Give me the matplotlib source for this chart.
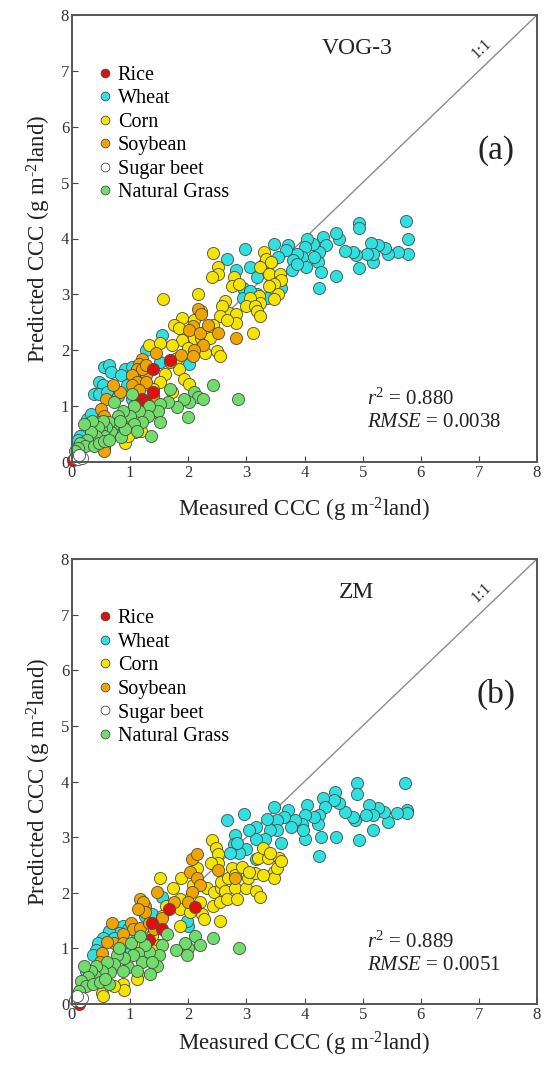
import numpy as np
import matplotlib
matplotlib.use("Agg")
import matplotlib.pyplot as plt
from matplotlib.lines import Line2D

plt.rcParams["font.family"] = ["Liberation Serif", "DejaVu Serif"]
plt.rcParams["mathtext.fontset"] = "custom"
plt.rcParams["mathtext.rm"] = "Liberation Serif"
plt.rcParams["mathtext.it"] = "Liberation Serif:italic"

# crop classes (legend order)
crops = ["Rice", "Wheat", "Corn", "Soybean", "Sugar beet", "Natural Grass"]
colors = {"Rice": "#e01010", "Wheat": "#2ee0e0", "Corn": "#f4e400",
          "Soybean": "#f0a400", "Sugar beet": "#ffffff", "Natural Grass": "#70dc6a"}

# ---- panel (a) VOG-3, measured vs predicted
a_wheat = [(5.74, 4.31), (5.78, 3.99), (5.78, 3.73), (5.61, 3.76), (5.43, 3.73), (5.38, 3.83),
           (5.27, 3.88), (5.14, 3.92), (5.18, 3.58), (5.18, 3.73), (5.07, 3.73), (4.94, 3.47),
           (4.94, 4.27), (4.94, 4.18), (4.88, 3.70), (4.84, 3.76), (4.70, 3.78), (4.60, 4.00),
           (4.54, 4.10), (4.55, 3.32), (4.31, 4.03), (4.37, 3.88), (4.25, 3.76), (4.24, 3.58),
           (4.25, 3.11), (4.28, 3.40), (4.14, 3.91), (4.17, 3.67), (4.05, 4.00), (4.00, 3.85),
           (3.96, 3.66), (4.02, 3.49), (3.87, 3.73), (3.81, 3.61), (3.78, 3.43), (3.72, 3.88),
           (3.69, 3.79), (3.87, 3.55), (3.54, 3.67), (3.48, 3.91), (3.60, 3.12), (3.42, 3.18),
           (3.30, 3.55), (3.36, 2.94), (3.18, 3.31), (3.18, 3.00), (3.06, 3.49), (2.97, 3.82),
           (2.94, 3.12), (2.82, 3.43), (2.79, 3.18), (2.94, 2.94), (2.67, 3.64), (3.06, 3.06),
           (1.54, 2.28), (1.51, 1.79), (1.27, 2.01), (2.02, 1.76), (0.55, 1.70), (0.64, 1.73),
           (0.67, 1.61), (0.47, 1.43), (0.53, 1.37), (0.38, 1.22), (0.47, 1.22), (0.61, 1.25),
           (0.91, 1.67), (1.03, 1.70), (0.85, 1.55), (0.94, 1.37), (0.79, 1.19), (0.26, 0.77),
           (0.14, 0.47), (0.11, 0.40), (0.32, 0.86), (1.03, 1.13), (1.15, 1.43)]
a_corn = [(2.42, 3.74), (3.30, 3.76), (3.33, 3.64), (2.52, 3.49), (2.52, 3.37), (2.40, 3.31),
          (2.79, 3.31), (2.76, 3.15), (2.88, 3.18), (3.24, 3.49), (3.42, 3.58), (3.39, 3.37),
          (3.57, 3.37), (3.60, 3.25), (3.48, 3.18), (3.54, 3.00), (3.48, 2.91), (3.39, 3.15),
          (3.21, 2.97), (3.24, 2.85), (3.06, 2.94), (3.00, 2.79), (3.15, 2.79), (3.18, 2.70),
          (3.24, 2.61), (3.12, 2.31), (2.17, 3.00), (1.57, 2.91), (2.64, 2.88), (2.70, 2.67),
          (2.58, 2.79), (2.55, 2.61), (2.43, 2.46), (2.34, 2.40), (2.82, 2.64), (2.82, 2.49),
          (2.67, 2.55), (2.22, 2.70), (2.10, 2.55), (1.90, 2.58), (1.75, 2.46), (1.84, 2.40),
          (2.10, 2.22), (1.90, 2.19), (1.72, 2.10), (1.99, 2.04), (2.29, 1.95), (2.22, 2.22),
          (2.37, 2.22), (2.49, 1.98), (2.55, 1.89), (1.81, 1.86), (1.84, 1.67), (1.93, 1.49),
          (2.02, 1.40), (1.60, 1.58), (1.51, 1.43), (1.39, 1.31), (1.33, 2.10), (1.51, 2.13),
          (1.72, 1.25), (1.09, 0.53), (1.18, 0.56), (0.91, 0.34), (0.97, 0.47), (1.39, 0.89),
          (1.48, 1.04)]
a_soy = [(2.17, 2.74), (2.22, 2.64), (2.08, 2.43), (2.02, 2.37), (2.20, 2.31), (2.26, 2.10),
         (2.52, 2.31), (2.82, 2.22), (2.34, 2.46), (1.87, 1.92), (2.10, 2.01), (2.08, 1.89),
         (1.69, 1.79), (1.45, 1.95), (1.27, 1.55), (1.21, 1.85), (1.15, 1.76), (1.12, 1.67),
         (1.21, 1.67), (1.27, 1.73), (1.03, 1.55), (1.12, 1.43), (1.27, 1.43), (1.03, 1.37),
         (0.82, 1.25), (0.70, 1.37), (0.58, 1.13), (0.50, 0.95), (0.55, 0.83), (0.47, 0.71),
         (1.39, 1.19), (0.55, 0.25), (0.55, 0.19), (1.15, 1.28), (1.12, 1.07)]
a_rice = [(1.39, 1.67), (1.69, 1.82), (1.21, 1.13), (1.27, 1.07), (1.39, 1.25), (0.02, 0.04)]
a_grass = [(2.85, 1.13), (2.43, 1.37), (2.10, 1.25), (2.17, 1.16), (2.26, 1.13), (2.02, 1.07),
           (1.93, 1.13), (1.81, 0.98), (1.99, 0.80), (1.66, 1.07), (1.69, 1.31), (1.51, 1.04),
           (1.48, 0.92), (1.51, 0.71), (1.33, 1.01), (1.36, 0.47), (1.30, 0.83), (1.15, 0.92),
           (1.21, 0.71), (1.03, 1.22), (1.06, 1.01), (1.00, 0.83), (1.06, 0.68), (0.88, 0.92),
           (0.88, 0.62), (0.79, 0.83), (0.73, 1.07), (0.73, 0.68), (0.67, 0.53), (0.64, 0.71),
           (0.58, 0.62), (0.50, 0.59), (0.53, 0.74), (0.55, 0.47), (0.44, 0.62), (0.41, 0.47),
           (0.35, 0.74), (0.32, 0.53), (0.26, 0.40), (0.20, 0.68), (0.14, 0.34), (0.23, 0.28),
           (0.11, 0.25), (0.38, 0.28), (0.47, 0.34), (0.55, 0.37), (0.64, 0.40), (0.85, 0.44),
           (0.91, 0.59), (1.12, 0.56), (0.82, 0.74), (0.05, 0.19)]
a_beet = [(0.05, 0.07), (0.11, 0.06), (0.17, 0.07), (0.12, 0.13)]

# ---- panel (b) ZM
b_wheat = [(5.73, 3.98), (5.77, 3.49), (5.77, 3.43), (5.59, 3.43), (5.43, 3.28), (5.37, 3.46),
           (5.26, 3.52), (5.11, 3.58), (5.17, 3.12), (5.17, 3.39), (5.05, 3.39), (4.93, 2.95),
           (4.91, 3.97), (4.90, 3.78), (4.87, 3.30), (4.84, 3.36), (4.69, 3.46), (4.60, 3.61),
           (4.53, 3.81), (4.54, 3.00), (4.51, 3.67), (4.31, 3.70), (4.36, 3.54), (4.25, 3.39),
           (4.23, 3.24), (4.25, 2.66), (4.28, 3.00), (4.16, 3.36), (4.04, 3.58), (4.01, 3.39),
           (3.95, 3.24), (4.01, 2.97), (3.98, 3.12), (3.83, 3.30), (3.77, 3.18), (3.71, 3.49),
           (3.65, 3.36), (3.53, 3.30), (3.47, 3.55), (3.53, 3.12), (3.59, 2.90), (3.41, 3.12),
           (3.35, 3.33), (3.32, 2.97), (3.17, 3.18), (3.17, 2.97), (3.05, 3.12), (2.96, 3.41),
           (2.99, 2.78), (2.87, 2.72), (2.81, 3.03), (2.78, 2.87), (2.66, 3.31), (2.72, 2.72),
           (3.17, 2.60), (2.84, 2.90),
           (1.55, 1.92), (2.00, 1.40), (1.97, 1.49), (1.26, 1.58), (1.38, 1.61), (0.87, 1.40),
           (0.96, 1.34), (0.81, 1.28), (0.63, 1.31), (0.54, 1.18), (0.45, 1.09), (0.42, 0.97),
           (0.36, 0.88), (0.72, 1.18), (1.11, 1.18), (0.24, 0.60), (1.02, 0.97)]
b_corn = [(2.40, 2.95), (2.48, 2.81), (2.51, 2.69), (2.51, 2.54), (2.39, 2.54), (2.15, 2.44),
          (2.09, 2.14), (1.88, 2.26), (1.52, 2.26), (1.73, 2.08), (1.61, 1.77), (1.85, 1.89),
          (1.85, 1.71), (2.03, 1.65), (2.21, 1.83), (2.24, 1.61), (2.27, 1.52), (2.33, 2.08),
          (2.45, 2.01), (2.42, 1.77), (2.54, 1.83), (2.57, 2.08), (2.57, 2.20), (2.69, 2.26),
          (2.63, 2.04), (2.66, 1.89), (2.81, 2.08), (2.84, 1.89), (2.75, 2.44), (2.81, 2.32),
          (2.93, 2.47), (2.99, 2.08), (3.02, 2.26), (3.14, 2.35), (3.17, 2.04), (3.23, 1.92),
          (3.20, 2.63), (3.29, 2.81), (3.38, 2.63), (3.47, 2.38), (3.47, 2.26), (3.53, 2.44),
          (3.56, 2.63), (3.59, 2.57), (3.41, 2.72), (3.29, 2.32), (3.05, 2.38), (2.54, 1.49),
          (1.55, 1.58), (1.38, 1.22), (1.20, 1.06), (1.14, 0.54), (1.11, 0.45), (0.87, 0.36),
          (0.90, 0.26), (0.72, 0.33), (0.51, 0.20), (0.54, 0.14), (1.49, 1.06), (1.38, 0.97),
          (1.85, 1.40)]
b_soy = [(2.06, 2.60), (2.15, 2.69), (2.03, 2.38), (2.15, 2.26), (2.21, 2.14), (2.06, 2.01),
         (2.00, 1.83), (1.76, 1.83), (2.81, 2.26), (2.51, 2.41), (1.46, 2.01), (1.55, 1.55),
         (1.26, 1.77), (1.17, 1.89), (1.23, 1.83), (1.26, 1.65), (1.14, 1.71), (1.02, 1.46),
         (1.05, 1.34), (1.17, 1.37), (0.87, 1.25), (0.72, 1.09), (0.60, 1.12), (0.69, 1.46),
         (0.51, 0.91), (0.48, 0.76), (0.87, 1.09), (1.32, 1.46), (1.41, 1.34)]
b_rice = [(2.12, 1.74), (1.55, 1.34), (1.38, 1.46), (1.67, 1.71), (1.32, 1.15), (0.12, 0.00)]
b_grass = [(2.87, 1.00), (2.42, 1.18), (2.12, 1.22), (2.21, 1.06), (2.00, 1.00), (1.94, 1.09),
           (1.79, 0.97), (1.97, 0.88), (1.64, 1.25), (1.55, 1.06), (1.49, 0.88), (1.46, 0.69),
           (1.32, 0.94), (1.35, 0.54), (1.26, 1.06), (1.14, 0.91), (1.20, 0.76), (1.02, 1.09),
           (1.05, 0.88), (0.96, 0.66), (0.90, 0.82), (0.78, 0.88), (0.72, 0.72), (0.66, 0.57),
           (0.81, 1.00), (0.87, 0.60), (0.60, 0.76), (0.51, 0.60), (0.42, 0.69), (0.39, 0.51),
           (0.33, 0.60), (0.21, 0.69), (0.27, 0.48), (0.15, 0.42), (0.24, 0.33), (0.12, 0.23),
           (0.36, 0.36), (0.48, 0.39), (0.63, 0.36), (0.57, 0.45), (1.11, 0.60), (1.17, 1.22),
           (1.38, 0.76)]
b_beet = [(0.06, 0.08), (0.13, 0.06), (0.18, 0.11), (0.09, 0.14)]

panels = [
    {"name": "VOG-3", "tag": "(a)", "r2": "0.880", "rmse": "0.0038", "pad": 11,
     "data": {"Wheat": a_wheat, "Corn": a_corn, "Soybean": a_soy, "Rice": a_rice,
              "Natural Grass": a_grass, "Sugar beet": a_beet}},
    {"name": "ZM", "tag": "(b)", "r2": "0.889", "rmse": "0.0051", "pad": 5,
     "data": {"Wheat": b_wheat, "Corn": b_corn, "Soybean": b_soy, "Rice": b_rice,
              "Natural Grass": b_grass, "Sugar beet": b_beet}},
]

fig = plt.figure(figsize=(5.44, 10.66), dpi=100)
rects = [[72 / 544, 1 - 462 / 1066, 465 / 544, 447 / 1066],
         [72 / 544, 1 - 1004 / 1066, 465 / 544, 445 / 1066]]

edge = "#4a4a4a"
# superscript with a plain hyphen, like the original figure
unit = r"(g m$^{\text{-2}}$land)"
for rect, p in zip(rects, panels):
    ax = fig.add_axes(rect)
    ax.plot([0, 8], [0, 8], color="#8c8c8c", lw=1.0, zorder=1)
    for crop, pts in p["data"].items():
        xy = np.array(pts)
        ax.scatter(xy[:, 0], xy[:, 1], s=76, c=colors[crop], edgecolors=edge,
                   linewidths=0.6, zorder=2, clip_on=False)

    ax.set_xlim(0, 8)
    ax.set_ylim(0, 8)
    ax.set_xticks(range(9))
    ax.set_yticks(range(9))
    ax.tick_params(direction="in", length=4, width=0.8, colors="#444444",
                   labelsize=12, pad=2, labelcolor="#333333")
    for s in ax.spines.values():
        s.set_color("#555555")
        s.set_linewidth(1.4)

    ax.set_xlabel("Measured CCC " + unit, fontsize=16.5, color="#222222", labelpad=p["pad"])
    ax.set_ylabel("Predicted CCC " + unit, fontsize=16.5, color="#222222", labelpad=6)

    ax.text(4.9, 7.4, p["name"], fontsize=17, ha="center", va="center", color="#222222")
    ax.text(7.3, 5.57, p["tag"], fontsize=24, ha="center", va="center", color="#222222")
    ax.text(7.05, 7.4, "1:1", fontsize=12, ha="center", va="center", rotation=44,
            color="#333333")
    ax.text(5.07, 1.12, "$r^2$ = " + p["r2"], fontsize=15, ha="left", va="center",
            color="#222222")
    ax.text(5.07, 0.70, "$RMSE$ = " + p["rmse"], fontsize=15, ha="left", va="center",
            color="#222222")

    handles = [Line2D([], [], ls="none", marker="o", markersize=6.3,
                      markerfacecolor=colors[c], markeredgecolor=edge,
                      markeredgewidth=0.6, label=c) for c in crops]
    ax.legend(handles=handles, loc="upper left", bbox_to_anchor=(0.04, 0.905),
              frameon=False, fontsize=14.5, handlelength=0.6, handletextpad=0.35,
              labelspacing=0.22, borderaxespad=0.0)

fig.savefig("out.png", dpi=100)
